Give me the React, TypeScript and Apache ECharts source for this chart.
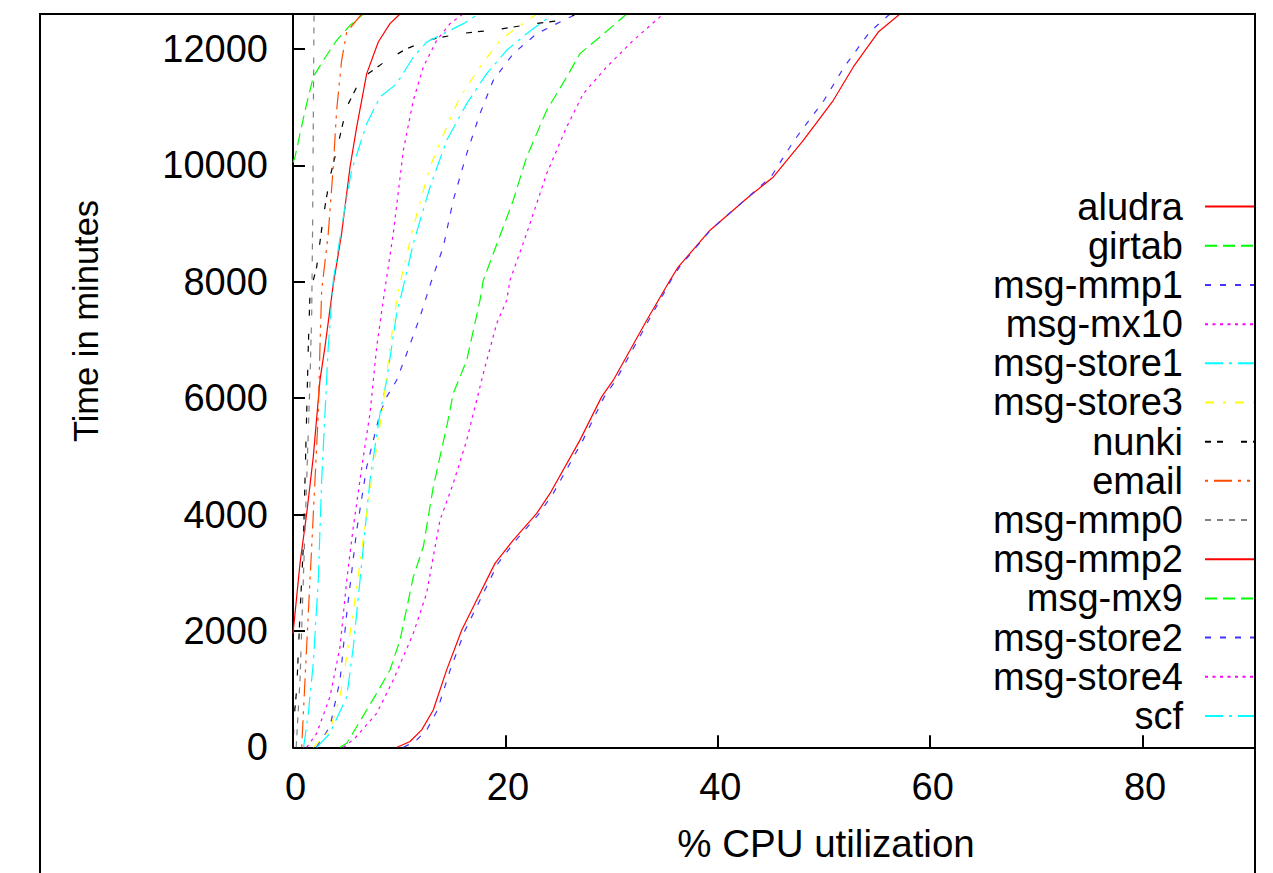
import React, { useEffect, useRef } from "react";
import * as echarts from "echarts";

const FONT = "Liberation Sans";

const seriesNames = [
  "aludra", "girtab", "msg-mmp1", "msg-mx10", "msg-store1", "msg-store3", "nunki",
  "email", "msg-mmp0", "msg-mmp2", "msg-mx9", "msg-store2", "msg-store4", "scf",
];

// [CPU %, minutes]
const aludra = [[0, 1950], [0.66, 3160], [1.29, 4019], [1.91, 4991], [2.54, 6308], [3.01, 6880], [3.79, 7950], [4.58, 8828], [5.37, 9972], [6.0, 10659], [6.94, 11576], [8.03, 12118], [9.13, 12434], [10.08, 12600]];
const girtab = [[0, 10050], [0.19, 10143], [0.66, 10544], [1.29, 11060], [1.91, 11517], [2.85, 11804], [4.11, 12147], [5.37, 12405], [6.62, 12600]];
const msgMmp1 = [[2.2, 0], [3.48, 354], [4.43, 1156], [5.06, 2301], [6.0, 3732], [6.94, 4819], [8.19, 5736], [8.82, 6021], [9.76, 6308], [10.71, 6767], [11.96, 7396], [13.06, 8026], [14.15, 8598], [15.09, 9400], [16.36, 10202], [17.61, 10889], [18.86, 11461], [20.74, 11919], [22.95, 12262], [24.83, 12434], [26.71, 12600]];
const msgMx10 = [[1.29, 0], [2.23, 240], [3.48, 869], [4.43, 1728], [5.06, 2873], [5.68, 3789], [6.62, 4991], [7.25, 5736], [7.88, 6880], [8.5, 7682], [9.44, 8828], [10.39, 10258], [11.33, 11117], [12.27, 11690], [13.53, 12147], [14.78, 12434], [16.0, 12600]];
const msgStore1 = [[2.23, 0], [3.48, 240], [5.06, 869], [5.68, 1728], [6.31, 2873], [7.25, 4591], [8.19, 5736], [8.82, 6308], [9.76, 7454], [10.3, 7850], [11.33, 8656], [12.9, 9628], [14.47, 10430], [16.36, 11060], [18.24, 11576], [20.12, 11976], [21.99, 12262], [24.51, 12600]];
const msgStore3 = [[1.91, 0], [3.48, 297], [4.43, 869], [5.06, 1556], [6.0, 2758], [6.94, 4019], [7.88, 5163], [8.5, 5908], [9.13, 6880], [9.76, 7682], [10.08, 7969], [11.33, 8941], [12.9, 9972], [14.47, 10659], [15.72, 11174], [17.61, 11690], [19.49, 12147], [20.74, 12319], [22.95, 12600]];
const nunki = [[0, 0], [0.1, 500], [0.35, 1000], [0.66, 2301], [0.97, 3445], [1.13, 4591], [1.29, 5736], [1.44, 6880], [1.6, 7800], [2.23, 8254], [2.85, 9113], [3.48, 9800], [4.11, 10258], [5.06, 11002], [6.0, 11346], [7.09, 11576], [8.82, 11804], [10.71, 12005], [12.9, 12160], [15.72, 12262], [19.18, 12331], [22.32, 12422], [24.83, 12480], [26.71, 12600]];
const email = [[0.82, 0], [1.13, 1156], [1.44, 2301], [1.76, 3445], [2.07, 4591], [2.38, 5736], [2.54, 6880], [2.7, 7854], [3.32, 8828], [3.79, 9972], [4.11, 10945], [4.58, 11804], [5.06, 12290], [6.47, 12600]];
const msgMmp0 = [[0.3, 0], [0.66, 1156], [0.97, 2873], [1.29, 4591], [1.6, 6308], [1.76, 7454], [1.85, 9000], [1.92, 11000], [1.98, 12600]];
const msgMmp2 = [[9.8, 0], [11.02, 100], [12.12, 300], [13.21, 640], [14.47, 1330], [15.89, 2015], [16.98, 2415], [19.02, 3160], [20.74, 3560], [22.95, 4019], [24.2, 4362], [27.02, 5278], [29.06, 6021], [30.16, 6308], [33.31, 7339], [35.5, 8026], [36.28, 8254], [39.27, 8885], [42.72, 9429], [45.23, 9800], [48.05, 10430], [50.88, 11117], [52.76, 11690], [55.11, 12290], [57.15, 12600]];
const msgMx9 = [[4.43, 0], [5.06, 69], [7.88, 927], [9.13, 1328], [10.08, 1843], [11.33, 2930], [12.27, 3445], [13.21, 4476], [14.47, 5506], [15.09, 6080], [16.36, 6652], [17.61, 7684], [17.92, 8026], [18.86, 8484], [20.74, 9400], [22.0, 10143], [23.89, 10945], [25.77, 11517], [27.02, 11919], [28.9, 12204], [31.42, 12600]];
const msgStore2 = [[10.4, 0], [11.5, 100], [12.6, 300], [13.6, 640], [14.8, 1330], [16.2, 2010], [17.3, 2415], [19.3, 3160], [21.0, 3560], [23.2, 4019], [24.5, 4362], [27.3, 5278], [29.3, 6021], [30.4, 6308], [33.5, 7339], [35.6, 8026], [36.4, 8254], [39.3, 8885], [42.7, 9429], [45.0, 9800], [47.2, 10430], [50.0, 11117], [51.9, 11690], [54.3, 12290], [56.2, 12600]];
const msgStore4 = [[4.74, 0], [5.8, 150], [7.88, 584], [9.44, 1156], [11.33, 1958], [12.58, 2645], [13.84, 3904], [15.09, 4534], [16.36, 5278], [17.92, 6423], [19.18, 7282], [20.12, 7682], [20.43, 8026], [22.0, 8828], [23.89, 9858], [25.77, 10659], [27.34, 11232], [29.54, 11690], [32.04, 12147], [34.87, 12600]];
const scf = [[1.0, 0], [1.44, 584], [1.91, 1443], [2.38, 2873], [2.7, 4591], [3.01, 5736], [3.32, 6880], [3.79, 8026], [4.74, 9113], [5.5, 9900], [6.94, 10716], [8.19, 11174], [9.76, 11400], [11.33, 11861], [12.59, 12118], [14.47, 12290], [16.04, 12434], [17.45, 12600]];

const seriesData = [aludra, girtab, msgMmp1, msgMx10, msgStore1, msgStore3, nunki, email, msgMmp0, msgMmp2, msgMx9, msgStore2, msgStore4, scf];

const xTicks = [0, 20, 40, 60, 80];
const yTicks = [0, 2000, 4000, 6000, 8000, 10000, 12000];

// gnuplot postscript line types
const DL = 3;
const lineTypes = [
  { color: "#ff0000", dash: "solid" as any },
  { color: "#00ff00", dash: [4 * DL, 2 * DL] },
  { color: "#4433ff", dash: [2 * DL, 3 * DL] },
  { color: "#ff00ff", dash: [1 * DL, 1.5 * DL] },
  { color: "#00ffff", dash: [6 * DL, 2 * DL, 1 * DL, 2 * DL] },
  { color: "#ffff00", dash: [3 * DL, 3 * DL, 1 * DL, 3 * DL] },
  { color: "#000000", dash: [2 * DL, 2 * DL, 2 * DL, 6 * DL] },
  { color: "#ff4d00", dash: [1 * DL, 2 * DL, 6 * DL, 2 * DL, 1 * DL, 2 * DL] },
  { color: "#808080", dash: [2 * DL, 2 * DL, 2 * DL, 2 * DL, 2 * DL, 2 * DL, 2 * DL, 4 * DL] },
];

const CHART_W = 1400;
const CHART_H = 873;
const GRID_LEFT = 293;
const GRID_TOP = 14;
const GRID_W = 1062;
const GRID_H = 733.3;

export default function App() {
  const ref = useRef<HTMLDivElement>(null);
  useEffect(() => {
    if (!ref.current) return;
    const chart = echarts.init(ref.current, null, { renderer: "svg" });
    const series = seriesNames.map((name, i) => {
      const lt = lineTypes[i % lineTypes.length];
      return {
        name,
        type: "line",
        data: seriesData[i],
        showSymbol: false,
        symbol: "none",
        clip: true,
        lineStyle: { color: lt.color, width: 1.2, type: lt.dash },
        itemStyle: { color: lt.color },
        z: 2,
      };
    });
    const option: any = {
      animation: false,
      backgroundColor: "#ffffff",
      textStyle: { fontFamily: FONT, color: "#000" },
      grid: {
        left: GRID_LEFT, top: GRID_TOP, width: GRID_W, height: GRID_H,
        containLabel: false, outerBoundsMode: "none",
      },
      xAxis: {
        type: "value", min: 0, max: 100, interval: 20,
        name: "% CPU utilization", nameLocation: "middle", nameGap: 77,
        nameTextStyle: { fontSize: 38.5, color: "#000", fontFamily: FONT, padding: [0, 0, 0, 4] },
        axisLine: { show: true, lineStyle: { color: "#000", width: 2 } },
        axisTick: { show: true, inside: true, length: 12, lineStyle: { color: "#000", width: 2 } },
        axisLabel: {
          fontSize: 38, color: "#000", margin: 21, fontFamily: FONT,
          padding: [0, 0, 0, 5],
          showMaxLabel: false,
          formatter: (v: number) => (xTicks.includes(v) ? String(v) : ""),
        },
        splitLine: { show: false },
      },
      yAxis: {
        type: "value", min: 0, max: 12600, interval: 2000,
        axisLine: { show: true, onZero: false, lineStyle: { color: "#000", width: 2 } },
        axisTick: { show: true, inside: true, length: 12, lineStyle: { color: "#000", width: 2 } },
        axisLabel: {
          fontSize: 38, color: "#000", margin: 25, fontFamily: FONT,
          formatter: (v: number) => (yTicks.includes(v) ? String(v) : ""),
        },
        splitLine: { show: false },
      },
      legend: {
        orient: "vertical", align: "right",
        right: CHART_W - 1286, top: 187, padding: 0, itemGap: 0,
        itemWidth: 80, itemHeight: 14,
        selectedMode: false,
        data: seriesNames,
        itemStyle: { opacity: 0 },
        textStyle: { fontSize: 38, color: "#000", fontFamily: FONT, lineHeight: 39.18, padding: [0, 17, 0, 0] },
      },
      series,
      graphic: [
        { type: "rect", z: 100, shape: { x: 1256, y: 0, width: 200, height: CHART_H }, style: { fill: "#fff" } },
        { type: "rect", z: 100, shape: { x: 0, y: 0, width: CHART_W, height: 13 }, style: { fill: "#fff" } },
        { type: "line", z: 101, shape: { x1: 40, y1: 14, x2: 1256, y2: 14 }, style: { stroke: "#000", lineWidth: 2 } },
        { type: "line", z: 101, shape: { x1: 40, y1: 13, x2: 40, y2: CHART_H }, style: { stroke: "#000", lineWidth: 2 } },
        { type: "line", z: 101, shape: { x1: 1255, y1: 13, x2: 1255, y2: CHART_H }, style: { stroke: "#000", lineWidth: 2 } },
        {
          type: "text", z: 101, x: 86, y: 321, rotation: Math.PI / 2,
          style: {
            text: "Time in minutes", fontSize: 34.5, fontFamily: FONT, fill: "#000",
            textAlign: "center", textVerticalAlign: "middle",
          },
        },
      ],
    };
    chart.setOption(option);
    return () => chart.dispose();
  }, []);
  return (
    <div style={{ position: "fixed", left: 0, top: 0, width: 1273, height: 873, overflow: "hidden", background: "#fff" }}>
      <div ref={ref} style={{ width: CHART_W, height: CHART_H }} />
    </div>
  );
}
